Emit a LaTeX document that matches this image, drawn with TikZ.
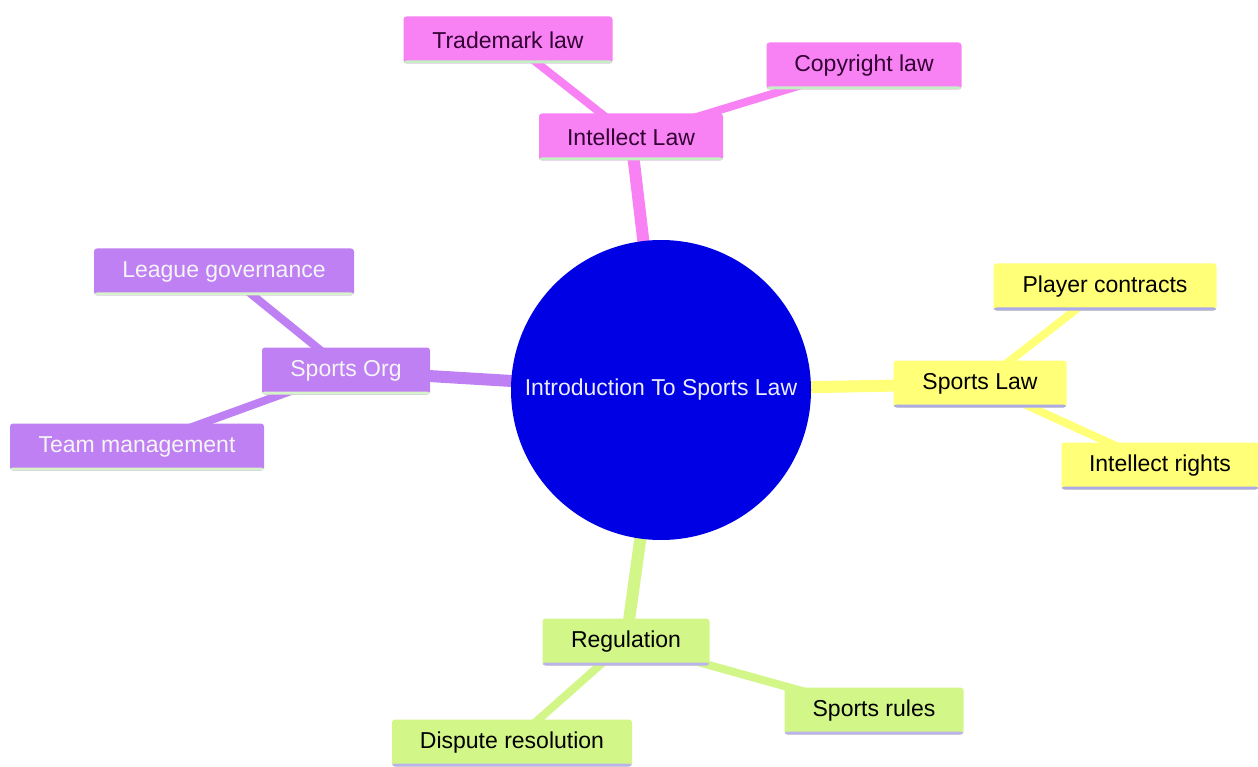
\documentclass[tikz,border=0pt]{standalone}
\usepackage{fontspec}
\setmainfont{Liberation Sans}
\usetikzlibrary{backgrounds}
\definecolor{pinkc}{RGB}{248,130,244}
\definecolor{purplec}{RGB}{191,128,244}
\definecolor{yellowc}{RGB}{255,255,120}
\definecolor{greenc}{RGB}{210,246,136}
\definecolor{bluec}{RGB}{0,0,228}
\definecolor{ulpink}{RGB}{196,238,196}
\definecolor{ulpurple}{RGB}{214,244,200}
\definecolor{ulyellow}{RGB}{172,170,232}
\definecolor{ulgreen}{RGB}{188,178,236}
\definecolor{pinktext}{RGB}{50,0,50}
\definecolor{purpletext}{RGB}{245,245,245}
\definecolor{centertext}{RGB}{236,236,255}
\begin{document}
\begin{tikzpicture}[x=1pt,y=-1pt,
  mm/.style={rectangle, rounded corners=3pt, minimum height=47pt, inner sep=0pt,
    font=\fontsize{23}{27}\selectfont},
  ul/.style={path picture={\fill[#1] ([yshift=3pt]path picture bounding box.south west) rectangle (path picture bounding box.south east);}},
  pinkbox/.style={mm, fill=pinkc, text=pinktext, ul=ulpink},
  purplebox/.style={mm, fill=purplec, text=purpletext, ul=ulpurple},
  yellowbox/.style={mm, fill=yellowc, text=black, ul=ulyellow},
  greenbox/.style={mm, fill=greenc, text=black, ul=ulgreen},
  mainedge/.style={line width=12pt, #1},
  subedge/.style={line width=8pt, #1},
]
\useasboundingbox (0,0) rectangle (1258,767);

\node[circle, fill=bluec, minimum size=300pt, inner sep=0pt, text=centertext,
  font=\fontsize{23}{27}\selectfont] (c) at (661,390) {Introduction To Sports Law};

\node[pinkbox, minimum width=184pt] (il) at (631,137) {Intellect Law};
\node[pinkbox, minimum width=209pt] (tm) at (508,40) {Trademark law};
\node[pinkbox, minimum width=195pt] (cl) at (864,66) {Copyright law};

\node[purplebox, minimum width=168pt] (so) at (346,371) {Sports Org};
\node[purplebox, minimum width=260pt] (lg) at (224,272) {League governance};
\node[purplebox, minimum width=254pt] (tmg) at (137,447) {Team management};

\node[yellowbox, minimum width=173pt] (sl) at (980,384) {Sports Law};
\node[yellowbox, minimum width=223pt] (pc) at (1105,287) {Player contracts};
\node[yellowbox, minimum width=197pt] (ir) at (1160,466) {Intellect rights};

\node[greenbox, minimum width=167pt] (rg) at (626,642) {Regulation};
\node[greenbox, minimum width=179pt] (sr) at (874,711) {Sports rules};
\node[greenbox, minimum width=240pt] (dr) at (512,743) {Dispute resolution};

\begin{pgfonlayer}{background}
\fill[white] (0,0) rectangle (1258,767);
\draw[mainedge=pinkc] (c.center) -- (il.center);
\draw[subedge=pinkc] (il.center) -- (tm.center);
\draw[subedge=pinkc] (il.center) -- (cl.center);
\draw[mainedge=purplec] (c.center) -- (so.center);
\draw[subedge=purplec] (so.center) -- (lg.center);
\draw[subedge=purplec] (so.center) -- (tmg.center);
\draw[mainedge=yellowc] (c.center) -- (sl.center);
\draw[subedge=yellowc] (sl.center) -- (pc.center);
\draw[subedge=yellowc] (sl.center) -- (ir.center);
\draw[mainedge=greenc] (c.center) -- (rg.center);
\draw[subedge=greenc] (rg.center) -- (sr.center);
\draw[subedge=greenc] (rg.center) -- (dr.center);
\end{pgfonlayer}
\end{tikzpicture}
\end{document}
